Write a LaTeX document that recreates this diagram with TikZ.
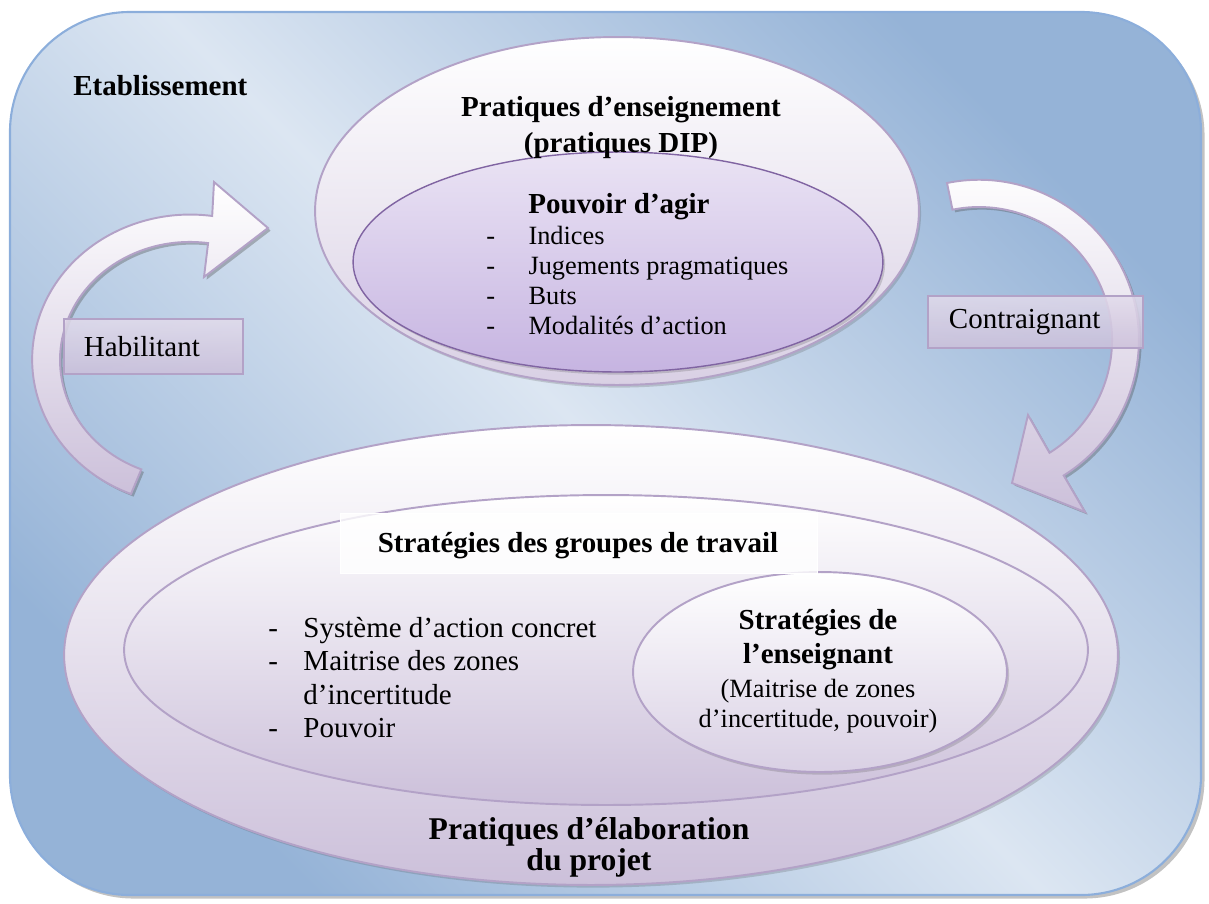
\documentclass[tikz,border=0pt]{standalone}
\usepackage{fontspec}
\setmainfont{Liberation Serif}
\usetikzlibrary{shapes.geometric,shadows}
\definecolor{fondClair}{HTML}{DCE6F2}
\definecolor{fondFonce}{HTML}{95B3D7}
\definecolor{bordBleu}{HTML}{8CAEDB}
\definecolor{lavBord}{HTML}{B3A2C7}
\definecolor{lavClair}{HTML}{E2DBEB}
\definecolor{lavFonce}{HTML}{CCC0DA}
\definecolor{lavMoyen}{HTML}{D9D0E4}
\definecolor{violetBord}{HTML}{8064A2}
\definecolor{violetClair}{HTML}{EAE3F4}
\definecolor{violetFonce}{HTML}{C6B4E1}
\newcommand{\tiretliste}[1]{\makebox[#1][l]{-}}
\tikzset{
  ombre/.style={drop shadow={shadow xshift=1.2pt,shadow yshift=-1.5pt,opacity=0.22,fill=black!70}},
  bulle/.style={ellipse,draw=lavBord,line width=1.1pt,inner sep=0,top color=white,bottom color=lavFonce},
  fleche/.style={draw=lavBord,line width=1.1pt,top color=white,bottom color=lavFonce,
    drop shadow={shadow xshift=1.5pt,shadow yshift=-1.5pt,opacity=0.35,fill=black!70}},
  etiquette/.style={rectangle,draw=lavBord,line width=1.1pt,top color=lavClair,bottom color=lavFonce,
    fill opacity=0.85,text opacity=1,inner ysep=0,anchor=north west,align=left,
    font=\fontsize{16.5}{19}\selectfont},
  texte/.style={inner sep=0},
  grand/.style={font=\bfseries\fontsize{16.5}{20}\selectfont},
  fort/.style={font=\fontsize{16.5}{19}\selectfont},
  moyen/.style={font=\fontsize{15}{17}\selectfont}
}
\begin{document}
\begin{tikzpicture}[x=0.02cm,y=-0.02cm]
\useasboundingbox (0,0) rectangle (1209,903);
\path[draw=bordBleu,line width=1.2pt,top color=fondFonce,bottom color=fondFonce,middle color=fondClair,
  shading angle=-45,rounded corners=2.4cm,drop shadow={shadow xshift=2pt,shadow yshift=-2pt,opacity=0.4,fill=black!60}]
  (10,12) rectangle (1201,895);
\node[texte,grand,anchor=base west] (etab) at (73,95) {Etablissement};

\node[bulle,minimum width=12.08cm,minimum height=6.96cm,bottom color=lavMoyen,ombre] (pratEns) at (617,211) {};
\node[bulle,draw=violetBord,line width=0.8pt,minimum width=10.6cm,minimum height=4.4cm,
  top color=violetClair,bottom color=violetFonce,ombre] (pouvoir) at (618,262) {};
\node[texte,grand,align=center] (titreEns) at (621,127.5) {Pratiques d’enseignement\\(pratiques DIP)};
\node[texte,grand,anchor=base] (titrePouv) at (619,213) {Pouvoir d’agir};
\node[texte,moyen,align=left,anchor=north west] (listePouv) at (486,226)
  {\tiretliste{24pt}Indices\\\tiretliste{24pt}Jugements pragmatiques\\\tiretliste{24pt}Buts\\\tiretliste{24pt}Modalités d’action};

\draw[fleche] (131,494) arc[start angle=112,end angle=278,x radius=158,y radius=145]
  -- (214,182) -- (268,228) -- (204,277) -- (208.1,243.1)
  arc[start angle=278,end angle=112,x radius=130,y radius=118] -- cycle;
\draw[fleche] (947,183) arc[start angle=258.5,end angle=418,radius=160]
  -- (1085,512) -- (1012,483) -- (1028,415) -- (1049.5,452.8)
  arc[start angle=418,end angle=258.5,radius=133] -- cycle;
\node[etiquette,text width=2.78cm,inner xsep=0.4cm,minimum height=1.1cm] (habil) at (63,318) {Habilitant};
\node[etiquette,text width=3.46cm,inner xsep=0.42cm,minimum height=1.04cm] (contr) at (927,295) {Contraignant};

\node[bulle,minimum width=21.08cm,minimum height=9.2cm,ombre] (pratElab) at (591,655) {};
\node[bulle,minimum width=19.28cm,minimum height=6.2cm] (groupes) at (606,650) {};
\node[bulle,minimum width=7.48cm,minimum height=4cm,bottom color=lavMoyen,ombre] (ensStrat) at (820,672) {};
\node[draw=white,line width=0.5pt,fill=white,fill opacity=0.8,minimum width=9.54cm,minimum height=1.2cm,
  anchor=north west,inner sep=0] (cadreGroupes) at (340,513) {};
\node[texte,grand,anchor=base] (titreGroupes) at (578,552) {Stratégies des groupes de travail};
\node[texte,fort,align=left,anchor=north west] (listeGroupes) at (268,617)
  {\tiretliste{20pt}Système d’action concret\\\tiretliste{20pt}Maitrise des zones\\\hspace*{20pt}d’incertitude\\\tiretliste{20pt}Pouvoir};
\node[texte,font=\bfseries\fontsize{16.5}{19}\selectfont,align=center] (titreStrat) at (818,639.5) {Stratégies de\\l’enseignant};
\node[texte,moyen,align=center] (texteStrat) at (818,706) {(Maitrise de zones\\d’incertitude, pouvoir)};
\node[texte,font=\bfseries\fontsize{18}{17.5}\selectfont,align=center] (titreElab) at (589,847) {Pratiques d’élaboration\\du projet};
\end{tikzpicture}
\end{document}
